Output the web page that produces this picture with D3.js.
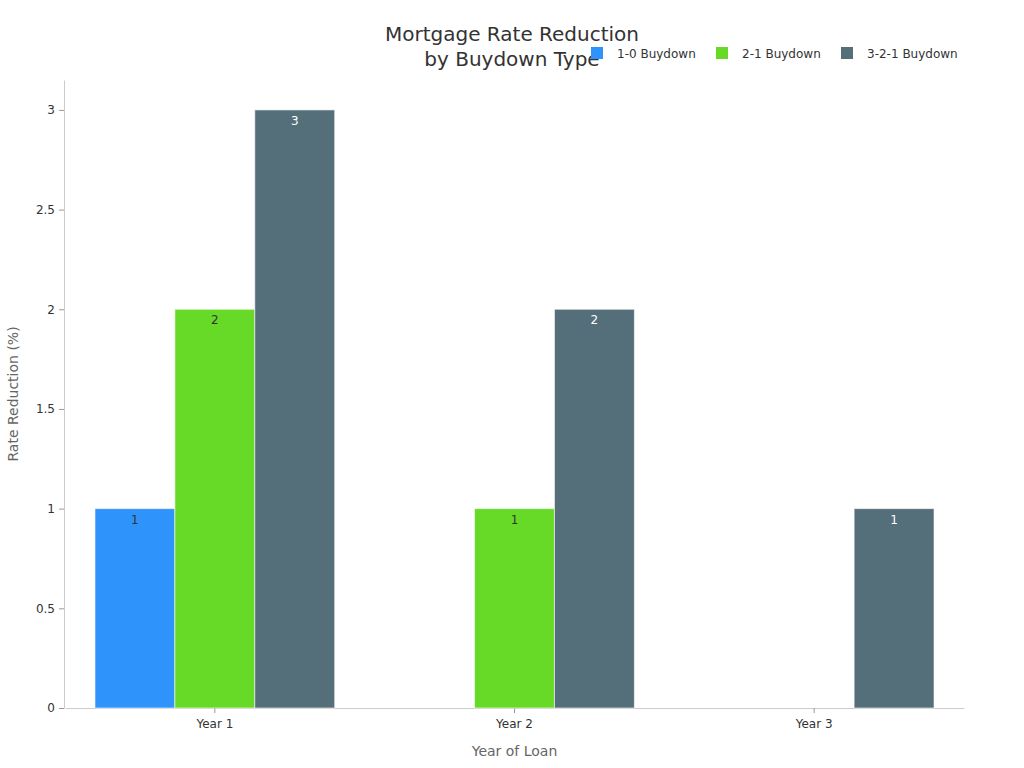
<!DOCTYPE html>
<html>
<head>
<meta charset="utf-8">
<script src="https://cdn.jsdelivr.net/npm/d3@7"></script>
<style>
  html, body { margin: 0; padding: 0; background: #fff; }
  svg { display: block; font-family: "DejaVu Sans", sans-serif; }
</style>
</head>
<body>
<svg id="chart" width="1024" height="768"></svg>
<script>
const categories = ["Year 1", "Year 2", "Year 3"];
const seriesNames = ["1-0 Buydown", "2-1 Buydown", "3-2-1 Buydown"];
const values10 = [1, 0, 0];
const values21 = [2, 1, 0];
const values321 = [3, 2, 1];
const yTicks = [0, 0.5, 1, 1.5, 2, 2.5, 3];
const colors = ["#2E93FA", "#66DA26", "#546E7A"];
const labelColors = ["#333333", "#333333", "#ffffff"];

const seriesValues = [values10, values21, values321];

const svg = d3.select("#chart");
const W = 1024, H = 768;
const axisX = 64, x0 = 65, x1 = 964, yTop = 80, yBottom = 708;

const x = d3.scaleBand().domain(categories).range([x0, x1]).padding(0);
const xInner = d3.scaleBand().domain(seriesNames)
  .range([x.bandwidth() * 0.1, x.bandwidth() * 0.9]).padding(0);
const y = d3.scaleLinear().domain([0, 3.15]).range([yBottom, yTop]);

const data = [];
categories.forEach((c, i) => {
  seriesNames.forEach((s, j) => {
    data.push({ cat: c, series: s, j: j, value: seriesValues[j][i] });
  });
});

// Y axis
const yAxis = d3.axisLeft(y).tickValues(yTicks).tickSize(5).tickSizeOuter(0).tickPadding(4).tickFormat(d3.format("~g"));
const gy = svg.append("g").attr("transform", `translate(${axisX},0)`).call(yAxis);
gy.select(".domain").attr("stroke", "#cccccc");
gy.selectAll(".tick line").attr("stroke", "#999999");
gy.selectAll(".tick text").attr("font-size", 12).attr("fill", "#333333").attr("font-family", "DejaVu Sans, sans-serif");

// X axis
const xAxis = d3.axisBottom(x).tickSize(5).tickSizeOuter(0).tickPadding(6);
const gx = svg.append("g").attr("transform", `translate(0,${yBottom})`).call(xAxis);
gx.select(".domain").attr("stroke", "#cccccc");
gx.selectAll(".tick line").attr("stroke", "#999999");
gx.selectAll(".tick text").attr("font-size", 12).attr("fill", "#333333").attr("font-family", "DejaVu Sans, sans-serif");

// Bars
svg.append("g").selectAll("rect")
  .data(data.filter(d => d.value > 0))
  .join("rect")
  .attr("x", d => x(d.cat) + xInner(d.series))
  .attr("y", d => y(d.value))
  .attr("width", xInner.bandwidth())
  .attr("height", d => y(0) - y(d.value))
  .attr("fill", d => colors[d.j])
  .attr("stroke", "rgba(255,255,255,0.6)")
  .attr("stroke-width", 1);

// Labels
svg.append("g").selectAll("text")
  .data(data.filter(d => d.value > 0))
  .join("text")
  .attr("x", d => x(d.cat) + xInner(d.series) + xInner.bandwidth() / 2)
  .attr("y", d => y(d.value) + 15)
  .attr("text-anchor", "middle")
  .attr("font-size", 12)
  .attr("fill", d => labelColors[d.j])
  .text(d => d.value);

// Axis titles
svg.append("text")
  .attr("x", (x0 + x1) / 2).attr("y", 756)
  .attr("text-anchor", "middle").attr("font-size", 14).attr("fill", "#666666")
  .text("Year of Loan");
svg.append("text")
  .attr("transform", `translate(18,${(yTop + yBottom) / 2}) rotate(-90)`)
  .attr("text-anchor", "middle").attr("font-size", 14).attr("fill", "#666666")
  .text("Rate Reduction (%)");

// Title
const title = svg.append("text").attr("text-anchor", "middle").attr("font-size", 20).attr("fill", "#333333");
title.append("tspan").attr("x", 512).attr("y", 41).text("Mortgage Rate Reduction");
title.append("tspan").attr("x", 512).attr("y", 66).text("by Buydown Type");

// Legend
const legendX = [591, 716, 841];
const lg = svg.append("g").selectAll("g").data(seriesNames).join("g")
  .attr("transform", (d, i) => `translate(${legendX[i]},47)`);
lg.append("rect").attr("width", 12).attr("height", 12).attr("fill", (d, i) => colors[i]);
lg.append("text").attr("x", 26).attr("y", 11).attr("font-size", 12).attr("fill", "#333333").text(d => d);
</script>
</body>
</html>
